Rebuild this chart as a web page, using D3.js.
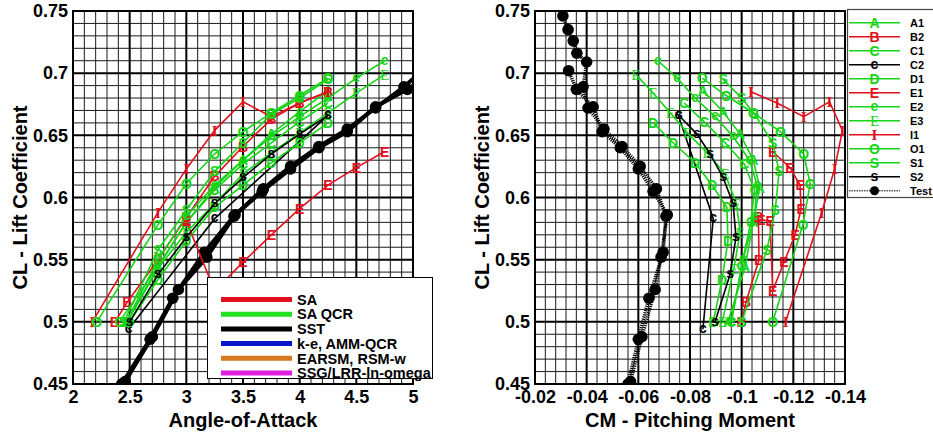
<!DOCTYPE html>
<html>
<head>
<meta charset="utf-8">
<script src="https://cdn.jsdelivr.net/npm/d3@7"></script>
<style>
  body { margin: 0; background: #fff; }
  text { font-family: Arial, "Liberation Sans", Helvetica, sans-serif; }
</style>
</head>
<body>
<svg id="chart"></svg>
<script>
// ---- data ----
var alphaTicks = [2, 2.5, 3, 3.5, 4, 4.5, 5];
var alphaTickLabels = ["2", "2.5", "3", "3.5", "4", "4.5", "5"];
var cmTicks = [-0.02, -0.04, -0.06, -0.08, -0.1, -0.12, -0.14];
var cmTickLabels = ["-0.02", "-0.04", "-0.06", "-0.08", "-0.1", "-0.12", "-0.14"];
var clTicks = [0.45, 0.5, 0.55, 0.6, 0.65, 0.7, 0.75];
var clTickLabels = ["0.45", "0.5", "0.55", "0.6", "0.65", "0.7", "0.75"];

var modelNames = ["SA", "SA QCR", "SST", "k-e, AMM-QCR", "EARSM, RSM-w", "SSG/LRR-ln-omega"];
var seriesNames = ["A1", "B2", "C1", "C2", "D1", "E1", "E2", "E3", "I1", "O1", "S1", "S2"];

var a1Alpha = [2.47, 2.75, 3.0, 3.25, 3.5, 3.75, 4.0, 4.25];
var a1CL    = [0.500, 0.544, 0.580, 0.608, 0.630, 0.651, 0.669, 0.686];
var a1CM    = [-0.0947, -0.1013, -0.1045, -0.1070, -0.1045, -0.0994, -0.0928, -0.0850];

var b2Alpha = [2.37, 2.48, 2.75, 3.0, 3.25, 3.5, 3.75, 4.0, 4.25];
var b2CL    = [0.500, 0.516, 0.550, 0.584, 0.617, 0.641, 0.663, 0.676, 0.685];
var b2CM    = [-0.1000, -0.1017, -0.1067, -0.1065, null, null, null, null, null];

var c1Alpha = [2.41, 2.75, 3.0, 3.25, 3.5, 3.75, 4.0, 4.25];
var c1CL    = [0.500, 0.545, 0.580, 0.606, 0.627, 0.644, 0.661, 0.676];
var c1CM    = [-0.0960, -0.1000, -0.1035, -0.1050, -0.1010, -0.0936, -0.0854, -0.0777];

var c2Alpha = [2.49, 3.25, 4.25];
var c2CL    = [0.494, 0.583, 0.666];
var c2CM    = [-0.0850, -0.0890, -0.0755];

var d1Alpha = [2.5, 2.75, 3.0, 3.25, 3.5, 3.75, 4.0, 4.25];
var d1CL    = [0.500, 0.534, 0.565, 0.592, 0.610, 0.628, 0.644, 0.660];
var d1CM    = [-0.0890, -0.0924, -0.0947, -0.0943, -0.0885, -0.0820, -0.0734, -0.0657];

var e1Alpha = [4.75, 4.5, 4.25, 4.0, 3.75, 3.5, 3.25, 3.0, 3.0];
var e1CL    = [0.637, 0.624, 0.610, 0.591, 0.570, 0.548, 0.525, 0.581, 0.582];
var e1CM    = [-0.1120, -0.1187, -0.1226, -0.1230, -0.1207, -0.1164, -0.1120, -0.1110, -0.1075];

var e2Alpha = [2.47, 2.75, 3.0, 3.25, 3.5, 3.75, 4.0, 4.25, 4.5, 4.75];
var e2CL    = [0.500, 0.550, 0.585, 0.610, 0.630, 0.649, 0.665, 0.680, 0.696, 0.710];
var e2CM    = [-0.0960, -0.1005, -0.1050, -0.1060, -0.1030, -0.0967, -0.0897, -0.0820, -0.0750, -0.0676];

var e3Alpha = [2.48, 2.75, 3.0, 3.25, 3.5, 3.75, 4.0, 4.25, 4.5, 4.75];
var e3CL    = [0.500, 0.543, 0.572, 0.595, 0.619, 0.636, 0.652, 0.668, 0.684, 0.699];
var e3CM    = [-0.0925, -0.0970, -0.0994, -0.0980, -0.0936, -0.0866, -0.0790, -0.0724, -0.0657, -0.0590];

var i1Alpha = [2.17, 2.75, 3.0, 3.25, 3.5, 3.75, 4.0, 4.25];
var i1CL    = [0.500, 0.588, 0.623, 0.654, 0.677, 0.665, 0.676, 0.685];
var i1CM    = [-0.1170, -0.1310, -0.1360, -0.1390, -0.1340, -0.1240, -0.1137, -0.1036];

var o1Alpha = [2.21, 2.75, 3.0, 3.25, 3.5, 3.75, 4.0, 4.25];
var o1CL    = [0.500, 0.578, 0.611, 0.635, 0.653, 0.668, 0.682, 0.696];
var o1CM    = [-0.1120, -0.1237, -0.1265, -0.1240, -0.1150, -0.1045, -0.0940, -0.0847];

var s1Alpha = [2.45, 2.75, 3.0, 3.25, 3.5, 3.75, 4.0, 4.25];
var s1CL    = [0.500, 0.558, 0.590, 0.621, 0.644, 0.667, 0.680, 0.695];
var s1CM    = [-0.1000, -0.1098, -0.1130, -0.1145, -0.1120, -0.1050, -0.1000, -0.0928];

var s2Alpha = [2.5, 2.75, 3.0, 3.25, 3.5, 3.75, 4.0, 4.25];
var s2CL    = [0.500, 0.538, 0.568, 0.595, 0.616, 0.635, 0.651, 0.666];
var s2CM    = [-0.0897, -0.0955, -0.0978, -0.0967, -0.0928, -0.0878, -0.0827, -0.0757];

var test1Alpha = [2.43, 2.68, 2.88, 3.16, 3.42, 3.68, 3.92, 4.17, 4.42, 4.67, 4.92, 5.17, 5.42, 5.67, 5.92, 6.17];
var test1CL    = [0.450, 0.486, 0.519, 0.556, 0.585, 0.607, 0.625, 0.641, 0.655, 0.672, 0.689, 0.709, 0.716, 0.726, 0.735, 0.746];
var test1CM    = [-0.0560, -0.0600, -0.0641, -0.0696, -0.0707, -0.0670, -0.0607, -0.0537, -0.0467, -0.0405, -0.0386, -0.0400, -0.0362, -0.0348, -0.0328, -0.0308];

var test2Alpha = [2.46, 2.70, 2.93, 3.18, 3.43, 3.67, 3.92, 4.17, 4.42, 4.67, 4.95, 5.20];
var test2CL    = [0.452, 0.488, 0.526, 0.552, 0.586, 0.605, 0.623, 0.640, 0.653, 0.673, 0.687, 0.702];
var test2CM    = [-0.0570, -0.0614, -0.0665, -0.0688, -0.0712, -0.0657, -0.0600, -0.0530, -0.0460, -0.0425, -0.0360, -0.0330];

// ---- styles ----
var RED = "#e2101c", GREEN = "#16d416", BLACK = "#000";
var modelColors = [RED, "#22e022", BLACK, "#0a14c8", "#d8781e", "#e020e0"];
var seriesStyle = {
    A1: { color: GREEN, glyph: "A" },
    B2: { color: RED,   glyph: "B" },
    C1: { color: GREEN, glyph: "C" },
    C2: { color: BLACK, glyph: "c", lower: true },
    D1: { color: GREEN, glyph: "D" },
    E1: { color: RED,   glyph: "E" },
    E2: { color: GREEN, glyph: "e", lower: true },
    E3: { color: GREEN, glyph: "E", serif: true, thin: true },
    I1: { color: RED,   glyph: "I", serif: true },
    O1: { color: GREEN, glyph: "O" },
    S1: { color: GREEN, glyph: "S" },
    S2: { color: BLACK, glyph: "s", lower: true }
};

function zip(a, c, m) {
    return a.map(function (v, i) { return { alpha: v, cl: c[i], cm: m[i] }; });
}
var seriesData = {
    A1: zip(a1Alpha, a1CL, a1CM), B2: zip(b2Alpha, b2CL, b2CM),
    C1: zip(c1Alpha, c1CL, c1CM), C2: zip(c2Alpha, c2CL, c2CM),
    D1: zip(d1Alpha, d1CL, d1CM), E1: zip(e1Alpha, e1CL, e1CM),
    E2: zip(e2Alpha, e2CL, e2CM), E3: zip(e3Alpha, e3CL, e3CM),
    I1: zip(i1Alpha, i1CL, i1CM), O1: zip(o1Alpha, o1CL, o1CM),
    S1: zip(s1Alpha, s1CL, s1CM), S2: zip(s2Alpha, s2CL, s2CM)
};
var testRuns = [zip(test1Alpha, test1CL, test1CM), zip(test2Alpha, test2CL, test2CM)];

// ---- chart ----
var svg = d3.select("#chart").attr("width", 933).attr("height", 434);
svg.append("rect").attr("width", "100%").attr("height", "100%").attr("fill", "white");

var plotTop = 11, plotBottom = 384;
var y = d3.scaleLinear().domain([0.45, 0.75]).range([plotBottom, plotTop]);
var xL = d3.scaleLinear().domain([2, 5]).range([73, 413]);
var xR = d3.scaleLinear().domain([-0.02, -0.14]).range([535, 845]);

function glyph(sel, st) {
    sel.attr("dy", st.lower ? "0.27em" : "0.36em")
        .attr("text-anchor", "middle")
        .attr("font-size", st.serif ? 15 : 14)
        .attr("font-weight", st.thin ? "normal" : "bold")
        .style("font-family", st.serif ? "'Liberation Serif', 'DejaVu Serif', serif" : null)
        .attr("fill", st.color)
        .text(st.glyph);
}

function drawPanel(id, x, key, xTicks, xLabels, xTitle, yTitleX) {
    var r = x.range();
    var d = x.domain();
    var g = svg.append("g");

    g.append("clipPath").attr("id", "clip-" + id)
        .append("rect").attr("x", r[0]).attr("y", plotTop)
        .attr("width", r[1] - r[0]).attr("height", plotBottom - plotTop);

    // grid: 30 divisions each way, heavy every fifth
    var grid = g.append("g");
    [false, true].forEach(function (major) {
        d3.range(31).forEach(function (i) {
            if ((i % 5 === 0) !== major) return;
            var vx = x(d[0] + (d[1] - d[0]) * i / 30);
            var vy = y(0.45 + 0.01 * i);
            grid.append("line").attr("x1", vx).attr("x2", vx)
                .attr("y1", plotTop).attr("y2", plotBottom)
                .attr("stroke", major ? "#000" : "#1a1a1a").attr("stroke-width", major ? 2 : 1);
            grid.append("line").attr("x1", r[0]).attr("x2", r[1])
                .attr("y1", vy).attr("y2", vy)
                .attr("stroke", major ? "#000" : "#1a1a1a").attr("stroke-width", major ? 2 : 1);
        });
    });

    var body = g.append("g").attr("clip-path", "url(#clip-" + id + ")");

    var line = d3.line()
        .defined(function (p) { return p[key] != null; })
        .x(function (p) { return x(p[key]); })
        .y(function (p) { return y(p.cl); });

    // test data
    testRuns.forEach(function (run) {
        body.append("path").datum(run)
            .attr("fill", "none").attr("stroke", "#000")
            .attr("stroke-width", id === "left" ? 4 : 3.4)
            .attr("stroke-dasharray", id === "left" ? null : "1.2,1")
            .attr("d", line);
    });
    testRuns.forEach(function (run) {
        body.selectAll(null).data(run).enter().append("circle")
            .attr("cx", function (p) { return x(p[key]); })
            .attr("cy", function (p) { return y(p.cl); })
            .attr("r", 5.8).attr("fill", "#000");
    });

    seriesNames.forEach(function (name) {
        var st = seriesStyle[name];
        var pts = seriesData[name];
        body.append("path").datum(pts)
            .attr("fill", "none").attr("stroke", st.color)
            .attr("stroke-width", 1.6).attr("d", line);
        body.selectAll(null).data(pts.filter(function (p) { return p[key] != null; }))
            .enter().append("text")
            .attr("x", function (p) { return x(p[key]); })
            .attr("y", function (p) { return y(p.cl); })
            .call(glyph, st);
    });

    g.append("rect").attr("x", r[0]).attr("y", plotTop)
        .attr("width", r[1] - r[0]).attr("height", plotBottom - plotTop)
        .attr("fill", "none").attr("stroke", "#000").attr("stroke-width", 2);

    var xAxis = g.append("g").attr("transform", "translate(0," + plotBottom + ")")
        .call(d3.axisBottom(x).tickValues(xTicks)
            .tickFormat(function (v, i) { return xLabels[i]; })
            .tickSize(0).tickPadding(6));
    var yAxis = g.append("g").attr("transform", "translate(" + r[0] + ",0)")
        .call(d3.axisLeft(y).tickValues(clTicks)
            .tickFormat(function (v, i) { return clTickLabels[i]; })
            .tickSize(0).tickPadding(5));
    [xAxis, yAxis].forEach(function (ax) {
        ax.select(".domain").remove();
        ax.selectAll("text")
            .attr("fill", "#000").attr("font-size", 18).attr("font-weight", "bold")
            .style("font-family", "Arial, 'Liberation Sans', sans-serif");
    });

    g.append("text").attr("x", (r[0] + r[1]) / 2).attr("y", 427)
        .attr("text-anchor", "middle").attr("font-size", 20).attr("font-weight", "bold")
        .text(xTitle);
    g.append("text")
        .attr("transform", "translate(" + yTitleX + "," + (plotTop + plotBottom) / 2 + ") rotate(-90)")
        .attr("text-anchor", "middle").attr("font-size", 20).attr("font-weight", "bold")
        .text("CL - Lift Coefficient");
}

drawPanel("left", xL, "alpha", alphaTicks, alphaTickLabels, "Angle-of-Attack", 27);
drawPanel("right", xR, "cm", cmTicks, cmTickLabels, "CM - Pitching Moment", 489);

// model legend (left panel)
var ml = svg.append("g");
ml.append("rect").attr("x", 207.5).attr("y", 277.5).attr("width", 225).attr("height", 101)
    .attr("fill", "white").attr("stroke", "#000").attr("stroke-width", 1);
modelNames.forEach(function (name, i) {
    var yy = 299.5 + i * 14.7;
    ml.append("line").attr("x1", 221).attr("x2", 292).attr("y1", yy).attr("y2", yy)
        .attr("stroke", modelColors[i]).attr("stroke-width", 5);
    ml.append("text").attr("x", 297).attr("y", yy).attr("dy", "0.36em")
        .attr("font-size", 14.5).attr("font-weight", "bold").text(name);
});

// case legend (right)
var cl = svg.append("g");
cl.append("rect").attr("x", 847.5).attr("y", 9.5).attr("width", 120).attr("height", 188)
    .attr("fill", "white").attr("stroke", "#444").attr("stroke-width", 1.2);
seriesNames.concat(["Test"]).forEach(function (name, i) {
    var yy = 22.8 + i * 14;
    var st = seriesStyle[name];
    cl.append("line").attr("x1", 849).attr("x2", 900).attr("y1", yy).attr("y2", yy)
        .attr("stroke", st ? st.color : "#000").attr("stroke-width", st ? 1.5 : 1)
        .attr("stroke-dasharray", st ? null : "1.5,1");
    if (st) {
        cl.append("text").attr("x", 874.5).attr("y", yy).call(glyph, st);
    } else {
        cl.append("circle").attr("cx", 874.5).attr("cy", yy).attr("r", 4.5).attr("fill", "#000");
    }
    cl.append("text").attr("x", 910).attr("y", yy).attr("dy", "0.36em")
        .attr("font-size", 11).attr("font-weight", "bold").text(name);
});
</script>
</body>
</html>
